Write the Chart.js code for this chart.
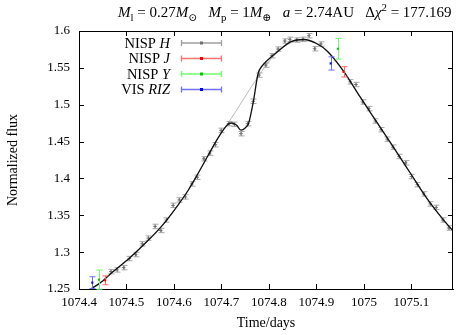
<!DOCTYPE html>
<html>
<head>
<meta charset="utf-8">
<script src="https://cdn.jsdelivr.net/npm/chart.js@4.4.1/dist/chart.umd.min.js"></script>
<style>
html, body { margin: 0; padding: 0; background: #fff; }
#wrap { width: 458px; height: 335px; position: relative; }
</style>
</head>
<body>
<div id="wrap"><canvas id="myChart"></canvas></div>
<script>
// NISP H points (time in days, normalized flux, error)
const hTime = [1074.467, 1074.480, 1074.494, 1074.506, 1074.519, 1074.533, 1074.546, 1074.560, 1074.572, 1074.584,
  1074.598, 1074.611, 1074.624, 1074.6375, 1074.649, 1074.6625, 1074.675, 1074.687, 1074.699, 1074.715,
  1074.727, 1074.741, 1074.755, 1074.767, 1074.779, 1074.793, 1074.806, 1074.819, 1074.833, 1074.844,
  1074.858, 1074.871, 1074.884, 1074.896, 1074.909, 1074.971, 1074.983, 1074.997, 1075.010, 1075.024,
  1075.036, 1075.049, 1075.061, 1075.074, 1075.0875, 1075.100, 1075.1125, 1075.1256, 1075.1396, 1075.152,
  1075.166, 1075.1785];
const hFlux = [1.2736, 1.2759, 1.2790, 1.2913, 1.2967, 1.3113, 1.3190, 1.3349, 1.3294, 1.3436,
  1.3635, 1.3708, 1.3749, 1.3926, 1.4016, 1.4266, 1.4343, 1.4457, 1.4652, 1.4743,
  1.4734, 1.4607, 1.4743, 1.5047, 1.5401, 1.5537, 1.5664, 1.5755, 1.5864, 1.5887,
  1.5877, 1.5887, 1.5936, 1.5759, 1.5823, 1.5310, 1.5274, 1.5037, 1.4947, 1.4779,
  1.4661, 1.4533, 1.4424, 1.4298, 1.4212, 1.4025, 1.3916, 1.3790, 1.3654, 1.3607,
  1.3436, 1.3327];
const hErr = hTime.map(() => 0.003);

// NISP J, NISP Y and VIS RIZ points
const jTime = [1074.455, 1074.957];
const jFlux = [1.2618, 1.5446];
const jErr = [0.006, 0.007];
const yTime = [1074.442, 1074.945];
const yFlux = [1.2627, 1.5759];
const yErr = [0.013, 0.014];
const vTime = [1074.428, 1074.930];
const vFlux = [1.2586, 1.5560];
const vErr = [0.008, 0.009];

// planetary model (black) and single lens model (grey)
const planetTime = [1074.420, 1074.450, 1074.4715, 1074.506, 1074.541, 1074.576, 1074.610, 1074.630, 1074.650, 1074.670,
  1074.690, 1074.705, 1074.714, 1074.722, 1074.732, 1074.741, 1074.750, 1074.757, 1074.767, 1074.777,
  1074.786, 1074.794, 1074.819, 1074.8465, 1074.874, 1074.900, 1074.923, 1074.958, 1074.992, 1075.027,
  1075.062, 1075.0965, 1075.131, 1075.166, 1075.195];
const planetFlux = [1.2480, 1.2610, 1.2735, 1.2918, 1.3130, 1.3367, 1.3653, 1.3840, 1.4060, 1.4290,
  1.4520, 1.4670, 1.4735, 1.4752, 1.4720, 1.4655, 1.4685, 1.4745, 1.5037, 1.5420,
  1.5530, 1.5585, 1.5725, 1.5855, 1.5885, 1.5830, 1.5725, 1.5446, 1.5105, 1.4765,
  1.4424, 1.4084, 1.3743, 1.3449, 1.3235];
const psplTime = [1074.420, 1074.450, 1074.4715, 1074.506, 1074.541, 1074.576, 1074.610, 1074.630, 1074.650, 1074.670,
  1074.690, 1074.705, 1074.715, 1074.777, 1074.805, 1074.835, 1074.860, 1074.885, 1074.910, 1074.923,
  1074.958, 1074.992, 1075.027, 1075.062, 1075.0965, 1075.131, 1075.166, 1075.195];
const psplFlux = [1.2480, 1.2610, 1.2735, 1.2918, 1.3130, 1.3367, 1.3653, 1.3840, 1.4060, 1.4290,
  1.4520, 1.4670, 1.4760, 1.5380, 1.5625, 1.5800, 1.5860, 1.5865, 1.5800, 1.5720,
  1.5446, 1.5105, 1.4765, 1.4424, 1.4084, 1.3743, 1.3449, 1.3235];

const xTicks = [1074.4, 1074.5, 1074.6, 1074.7, 1074.8, 1074.9, 1075.0, 1075.1];
const yTicks = [1.25, 1.3, 1.35, 1.4, 1.45, 1.5, 1.55, 1.6];

const FONT = "'Liberation Serif', 'DejaVu Serif', serif";

const pts = (t, f) => t.map((v, i) => ({ x: v, y: f[i] }));

// draws a run of text pieces, each piece may be italic / sub / sup
function rich(ctx, parts, x, y, size, align) {
  const fontOf = p => (p.it ? 'italic ' : '') + (p.sub || p.sup ? size * 0.72 : size) + 'px ' + FONT;
  let w = 0;
  parts.forEach(p => { ctx.font = fontOf(p); w += ctx.measureText(p.t).width; });
  let cx = align === 'right' ? x - w : align === 'center' ? x - w / 2 : x;
  ctx.textAlign = 'left';
  ctx.textBaseline = 'alphabetic';
  parts.forEach(p => {
    ctx.font = fontOf(p);
    const dy = p.sub ? size * 0.25 : p.sup ? -size * 0.4 : 0;
    ctx.fillText(p.t, cx, y + dy);
    cx += ctx.measureText(p.t).width;
  });
}

const decor = {
  id: 'decor',
  beforeDatasetDraw(chart, args) {
    const ds = chart.data.datasets[args.index];
    if (!ds.errors) return;
    const { ctx, scales: { x, y } } = chart;
    ctx.save();
    ctx.strokeStyle = ds.barColor;
    ctx.lineWidth = 1;
    ds.data.forEach((p, i) => {
      const e = ds.errors[i];
      const px = Math.round(x.getPixelForValue(p.x)) + 0.5;
      const y1 = y.getPixelForValue(p.y - e), y2 = y.getPixelForValue(p.y + e);
      ctx.beginPath();
      ctx.moveTo(px, y1); ctx.lineTo(px, y2);
      ctx.moveTo(px - 3, y1); ctx.lineTo(px + 3, y1);
      ctx.moveTo(px - 3, y2); ctx.lineTo(px + 3, y2);
      ctx.stroke();
    });
    ctx.restore();
  },
  afterDraw(chart) {
    const { ctx, chartArea: a, scales: { x, y } } = chart;
    ctx.save();
    // frame and inward ticks
    ctx.strokeStyle = '#000';
    ctx.lineWidth = 1;
    ctx.beginPath();
    ctx.moveTo(a.left, a.top + 0.5); ctx.lineTo(a.right, a.top + 0.5);
    ctx.moveTo(a.right - 0.5, a.top); ctx.lineTo(a.right - 0.5, a.bottom);
    xTicks.forEach(v => {
      const px = Math.round(x.getPixelForValue(v)) + 0.5;
      ctx.moveTo(px, a.bottom); ctx.lineTo(px, a.bottom - 5);
      ctx.moveTo(px, a.top); ctx.lineTo(px, a.top + 5);
    });
    yTicks.forEach(v => {
      const py = Math.round(y.getPixelForValue(v)) + 0.5;
      ctx.moveTo(a.left, py); ctx.lineTo(a.left + 5, py);
      ctx.moveTo(a.right, py); ctx.lineTo(a.right - 5, py);
    });
    ctx.stroke();

    ctx.fillStyle = '#000';
    // axis titles
    rich(ctx, [{ t: 'Time/days' }], (a.left + a.right) / 2, 327, 14, 'center');
    ctx.save();
    ctx.translate(17, (a.top + a.bottom) / 2);
    ctx.rotate(-Math.PI / 2);
    rich(ctx, [{ t: 'Normalized flux' }], 0, 0, 14, 'center');
    ctx.restore();

    // title
    rich(ctx, [
      { t: 'M', it: true }, { t: 'l', sub: true }, { t: ' = 0.27' }, { t: 'M', it: true }, { t: '\u2299', sub: true },
      { t: '   ' }, { t: 'M', it: true }, { t: 'p', sub: true }, { t: ' = 1' }, { t: 'M', it: true }, { t: '\u2295', sub: true },
      { t: '   ' }, { t: 'a', it: true }, { t: ' = 2.74AU   \u0394' }, { t: '\u03c7', it: true }, { t: '2', sup: true },
      { t: ' = 177.169' }
    ], 118, 17, 15, 'left');

    // legend
    const rows = [
      { parts: [{ t: 'NISP ' }, { t: 'H', it: true }], bar: '#a0a0a0', dot: '#707070' },
      { parts: [{ t: 'NISP ' }, { t: 'J', it: true }], bar: '#ff7070', dot: '#ff0000' },
      { parts: [{ t: 'NISP ' }, { t: 'Y', it: true }], bar: '#70ff70', dot: '#00cc00' },
      { parts: [{ t: 'VIS ' }, { t: 'RIZ', it: true }], bar: '#7070ff', dot: '#0000ff' }
    ];
    rows.forEach((r, i) => {
      const ly = 43 + i * 15.5;
      ctx.fillStyle = '#000';
      rich(ctx, r.parts, 170, ly + 4.5, 14.5, 'right');
      ctx.strokeStyle = r.bar;
      ctx.lineWidth = 1.3;
      ctx.beginPath();
      ctx.moveTo(181, ly); ctx.lineTo(222, ly);
      ctx.moveTo(181.5, ly - 3); ctx.lineTo(181.5, ly + 3);
      ctx.moveTo(221.5, ly - 3); ctx.lineTo(221.5, ly + 3);
      ctx.stroke();
      ctx.fillStyle = r.dot;
      ctx.fillRect(200, ly - 1.5, 3, 3);
    });
    ctx.restore();
  }
};

const tickFont = { family: FONT, size: 13 };

new Chart(document.getElementById('myChart'), {
  type: 'scatter',
  data: {
    datasets: [
      { data: pts(vTime, vFlux), errors: vErr, barColor: '#6f6fff', pointStyle: 'rect', pointRadius: 1.5,
        backgroundColor: '#0000ff', borderColor: '#0000ff', borderWidth: 0, order: 0 },
      { data: pts(yTime, yFlux), errors: yErr, barColor: '#66ff66', pointStyle: 'rect', pointRadius: 1.5,
        backgroundColor: '#00cc00', borderColor: '#00cc00', borderWidth: 0, order: 1 },
      { data: pts(jTime, jFlux), errors: jErr, barColor: '#ff6666', pointStyle: 'rect', pointRadius: 1.5,
        backgroundColor: '#ff0000', borderColor: '#ff0000', borderWidth: 0, order: 2 },
      { data: pts(planetTime, planetFlux), showLine: true, pointRadius: 0, borderColor: '#111', borderWidth: 1.3,
        cubicInterpolationMode: 'monotone', order: 3 },
      { data: pts(hTime, hFlux), errors: hErr, barColor: '#a8a8a8', pointStyle: 'cross', pointRadius: 1.8,
        borderColor: '#707070', borderWidth: 1, order: 4 },
      { data: pts(psplTime, psplFlux), showLine: true, pointRadius: 0, borderColor: '#aaaaaa', borderWidth: 0.8,
        cubicInterpolationMode: 'monotone', order: 5 }
    ]
  },
  options: {
    responsive: true,
    maintainAspectRatio: false,
    animation: false,
    devicePixelRatio: 1,
    layout: { padding: { top: 31, right: 1, left: 0, bottom: 0 } },
    plugins: { legend: { display: false }, tooltip: { enabled: false } },
    scales: {
      x: {
        type: 'linear', min: 1074.4, max: 1075.1875,
        grid: { display: false, drawTicks: false },
        border: { display: true, color: '#000', width: 1 },
        ticks: { font: tickFont, color: '#000', padding: 6, maxRotation: 0, autoSkip: false,
          callback: v => String(+v.toFixed(1)) },
        afterBuildTicks: s => { s.ticks = xTicks.map(v => ({ value: v })); },
        afterFit: s => { s.height = 46; }
      },
      y: {
        type: 'linear', min: 1.25, max: 1.6,
        grid: { display: false, drawTicks: false },
        border: { display: true, color: '#000', width: 1 },
        ticks: { font: tickFont, color: '#000', padding: 9, autoSkip: false,
          callback: v => String(+v.toFixed(2)) },
        afterBuildTicks: s => { s.ticks = yTicks.map(v => ({ value: v })); },
        afterFit: s => { s.width = 79; }
      }
    }
  },
  plugins: [decor]
});
</script>
</body>
</html>
